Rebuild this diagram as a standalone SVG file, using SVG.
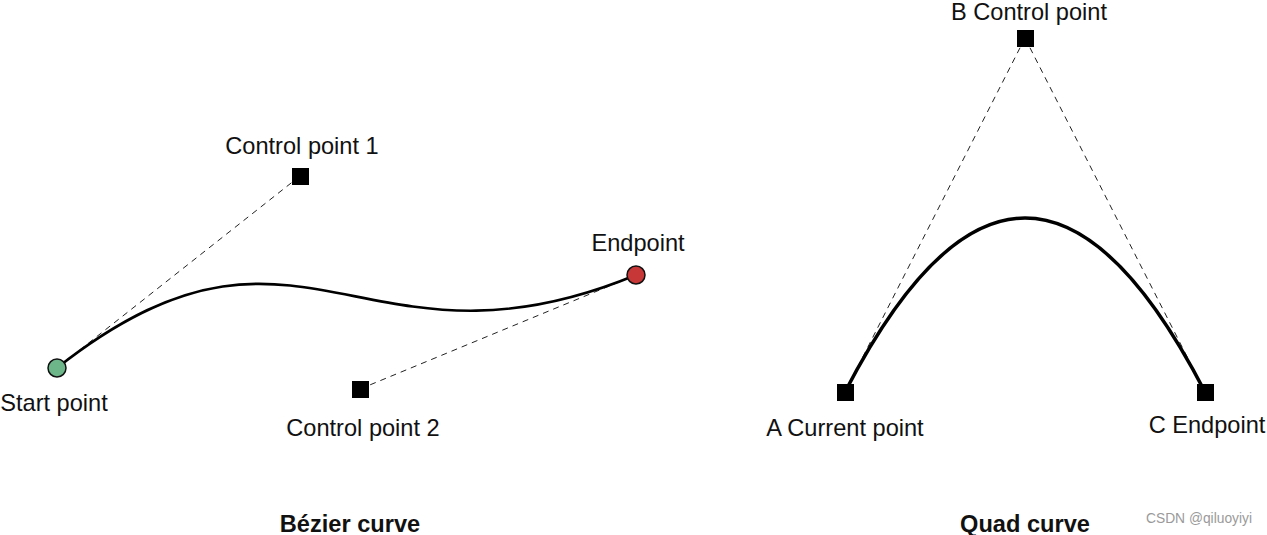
<svg xmlns="http://www.w3.org/2000/svg" width="1267" height="535" viewBox="0 0 1267 535">
<style>
text{font-family:"Liberation Sans",Arial,sans-serif;font-size:23.6px;fill:#111;text-anchor:middle}
.t{font-weight:bold}
.w{font-size:13.8px;fill:#9a9a9a}
.d{fill:none;stroke:#222;stroke-width:1;stroke-dasharray:6 5}
.sq{fill:#000}
</style>
<rect width="1267" height="535" fill="#fff"/>
<g id="connectors">
<path class="d" d="M300 176 L57 368"/>
<path class="d" d="M360 389 L636 275"/>
<path class="d" d="M1025 38 L845 392"/>
<path class="d" d="M1025 38 L1205 392"/>
<path d="M57 368 C300 176 360 389 636 275" fill="none" stroke="#000" stroke-width="2.6"/>
<path d="M845 392 Q1025 44 1205 392" fill="none" stroke="#000" stroke-width="3.5"/>
</g>
<g id="start"><circle cx="57" cy="368" r="9" fill="#6db68a" stroke="#111" stroke-width="1.5"/><text x="54" y="411">Start point</text></g>
<g id="end"><circle cx="636" cy="275" r="9" fill="#c83737" stroke="#111" stroke-width="1.5"/><text x="638" y="251">Endpoint</text></g>
<g id="cp1"><rect class="sq" x="292" y="168" width="17" height="17"/><text x="302" y="154">Control point 1</text></g>
<g id="cp2"><rect class="sq" x="352" y="381" width="17" height="17"/><text x="363" y="436">Control point 2</text></g>
<g id="A"><rect class="sq" x="837" y="384" width="17" height="17"/><text x="845" y="436">A Current point</text></g>
<g id="B"><rect class="sq" x="1017" y="30" width="17" height="17"/><text x="1029" y="19.5">B Control point</text></g>
<g id="C"><rect class="sq" x="1197" y="384" width="17" height="17"/><text x="1207" y="433">C Endpoint</text></g>
<text class="t" x="350" y="532">Bézier curve</text>
<text class="t" x="1025" y="532">Quad curve</text>
<text class="w" x="1199" y="523">CSDN @qiluoyiyi</text>
</svg>
